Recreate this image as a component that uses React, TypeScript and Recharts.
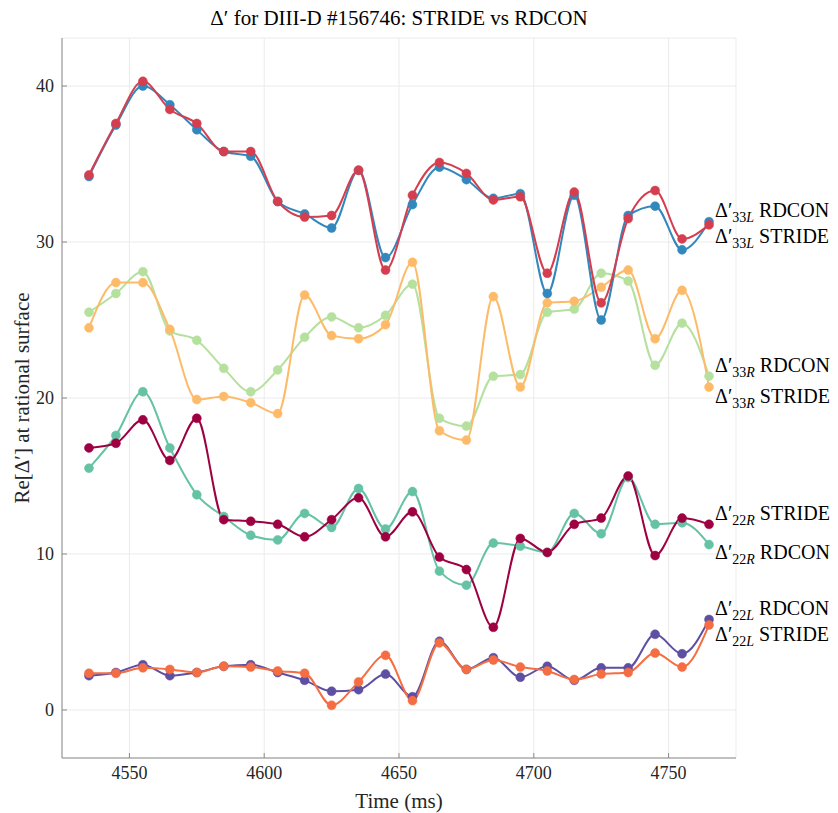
import { LineChart, Line, XAxis, YAxis, CartesianGrid, ReferenceDot } from 'recharts';

// time samples (ms)
const times = [4535, 4545, 4555, 4565, 4575, 4585, 4595, 4605, 4615, 4625, 4635, 4645, 4655, 4665, 4675, 4685, 4695, 4705, 4715, 4725, 4735, 4745, 4755, 4765];

// Re[Δ'] per rational surface
const d33L_RDCON = [34.2, 37.5, 40.0, 38.8, 37.2, 35.8, 35.5, 32.6, 31.8, 30.9, 34.6, 29.0, 32.4, 34.8, 34.0, 32.8, 33.1, 26.7, 33.0, 25.0, 31.7, 32.3, 29.5, 31.3];
const d33L_STRIDE = [34.3, 37.6, 40.3, 38.5, 37.6, 35.8, 35.8, 32.6, 31.6, 31.7, 34.6, 28.2, 33.0, 35.1, 34.4, 32.7, 32.9, 28.0, 33.2, 26.1, 31.5, 33.3, 30.2, 31.1];
const d33R_RDCON = [25.5, 26.7, 28.1, 24.3, 23.7, 21.9, 20.4, 21.8, 23.9, 25.2, 24.5, 25.3, 27.3, 18.7, 18.2, 21.4, 21.5, 25.5, 25.7, 28.0, 27.5, 22.1, 24.8, 21.4];
const d33R_STRIDE = [24.5, 27.4, 27.4, 24.4, 19.9, 20.1, 19.7, 19.0, 26.6, 24.0, 23.8, 24.7, 28.7, 17.9, 17.3, 26.5, 20.7, 26.1, 26.2, 27.1, 28.2, 23.8, 26.9, 20.7];
const d22R_RDCON = [15.5, 17.6, 20.4, 16.8, 13.8, 12.4, 11.2, 10.9, 12.6, 11.7, 14.2, 11.6, 14.0, 8.9, 8.0, 10.7, 10.5, 10.1, 12.6, 11.3, 14.9, 11.9, 12.0, 10.6];
const d22R_STRIDE = [16.8, 17.1, 18.6, 16.0, 18.7, 12.2, 12.1, 11.9, 11.1, 12.2, 13.6, 11.1, 12.7, 9.8, 9.0, 5.3, 11.0, 10.1, 11.9, 12.3, 15.0, 9.9, 12.3, 11.9];
const d22L_RDCON = [2.2, 2.4, 2.9, 2.2, 2.4, 2.8, 2.9, 2.4, 1.9, 1.2, 1.3, 2.3, 0.85, 4.4, 2.6, 3.35, 2.1, 2.8, 1.9, 2.7, 2.7, 4.85, 3.6, 5.8];
const d22L_STRIDE = [2.35, 2.35, 2.7, 2.6, 2.4, 2.8, 2.75, 2.5, 2.35, 0.3, 1.8, 3.5, 0.6, 4.3, 2.6, 3.2, 2.75, 2.5, 1.95, 2.3, 2.4, 3.65, 2.75, 5.45];

const xTicks = [4550, 4600, 4650, 4700, 4750];
const yTicks = [0, 10, 20, 30, 40];

// where the end labels sit (data units)
const labelPos = [32.05, 30.4, 22.1, 20.1, 12.6, 10.1, 6.55, 4.85];

const FONT = "'Times New Roman', 'Liberation Serif', Times, 'DejaVu Serif', serif";

const series = [
  { key: 'r22l', data: d22L_RDCON, color: '#5e4fa2', sub: '22', side: 'L', code: 'RDCON' },
  { key: 's22l', data: d22L_STRIDE, color: '#f46d43', sub: '22', side: 'L', code: 'STRIDE' },
  { key: 'r22r', data: d22R_RDCON, color: '#66c2a5', sub: '22', side: 'R', code: 'RDCON' },
  { key: 's22r', data: d22R_STRIDE, color: '#9e0142', sub: '22', side: 'R', code: 'STRIDE' },
  { key: 'r33r', data: d33R_RDCON, color: '#b5e09e', sub: '33', side: 'R', code: 'RDCON' },
  { key: 's33r', data: d33R_STRIDE, color: '#fdbb69', sub: '33', side: 'R', code: 'STRIDE' },
  { key: 'r33l', data: d33L_RDCON, color: '#3288bd', sub: '33', side: 'L', code: 'RDCON' },
  { key: 's33l', data: d33L_STRIDE, color: '#d53e4f', sub: '33', side: 'L', code: 'STRIDE' },
];

// label order top-to-bottom as in the figure
const labelOrder = ['r33l', 's33l', 'r33r', 's33r', 's22r', 'r22r', 'r22l', 's22l'];

const rows = times.map((t, i) => {
  const row: Record<string, number> = { t };
  series.forEach((s) => {
    row[s.key] = s.data[i];
  });
  return row;
});

function EndLabel(props: any) {
  const { viewBox, sub, side, code } = props;
  if (!viewBox) return null;
  const x = viewBox.x + 6;
  const y = viewBox.y;
  return (
    <text x={x} y={y} dy="0.35em" style={{ fontFamily: FONT }} fontSize={20} fill="#000">
      Δ′
      <tspan fontSize={14} dy={5}>{sub}</tspan>
      <tspan fontSize={14} fontStyle="italic">{side}</tspan>
      <tspan fontSize={20} dy={-5}>{' ' + code}</tspan>
    </text>
  );
}

export default function App() {
  return (
    <div style={{ position: 'absolute', left: 0, top: 0, width: 838, height: 813, background: '#fff', fontFamily: FONT }}>
      <div
        style={{
          position: 'absolute',
          left: 62,
          width: 674,
          top: 6,
          textAlign: 'center',
          fontFamily: FONT,
          fontSize: 21,
          lineHeight: '24px',
          color: '#000',
        }}
      >
        Δ′ for DIII-D #156746: STRIDE vs RDCON
      </div>
      <LineChart
        width={838}
        height={813}
        data={rows}
        margin={{ top: 38, right: 102, bottom: 0, left: 0 }}
        style={{ fontFamily: FONT }}
      >
        <CartesianGrid stroke="#ebebeb" strokeWidth={1} />
        <XAxis
          dataKey="t"
          type="number"
          domain={[4525, 4775]}
          ticks={xTicks}
          allowDataOverflow
          height={55}
          tickSize={-5}
          tickMargin={13}
          stroke="#8a8a8a"
          tick={{ fill: '#262626', fontFamily: FONT, fontSize: 18 }}
          label={(p: any) => {
            const vb = p.viewBox;
            return (
              <text x={vb.x + vb.width / 2} y={vb.y + 43} dy="0.35em" textAnchor="middle" style={{ fontFamily: FONT }} fontSize={21} fill="#262626">
                Time (ms)
              </text>
            );
          }}
        />
        <YAxis
          type="number"
          domain={[-3.08, 43.08]}
          ticks={yTicks}
          allowDataOverflow
          width={62}
          tickSize={-5}
          tickMargin={13}
          stroke="#8a8a8a"
          tick={{ fill: '#262626', fontFamily: FONT, fontSize: 18 }}
          label={(p: any) => {
            const vb = p.viewBox;
            const cx = vb.x + 22;
            const cy = vb.y + vb.height / 2;
            return (
              <text x={cx} y={cy} dy="0.35em" textAnchor="middle" transform={`rotate(-90 ${cx} ${cy})`} style={{ fontFamily: FONT }} fontSize={21} fill="#262626">
                Re[Δ′] at rational surface
              </text>
            );
          }}
        />
        {series.map((s) => (
          <Line
            key={s.key}
            dataKey={s.key}
            type="monotone"
            stroke={s.color}
            strokeWidth={2}
            dot={{ r: 4.5, fill: s.color, stroke: s.color, strokeWidth: 0.5 }}
            activeDot={false}
            isAnimationActive={false}
          />
        ))}
        {labelOrder.map((k, i) => {
          const s = series.find((q) => q.key === k)!;
          return (
            <ReferenceDot
              key={'lbl' + k}
              x={times[times.length - 1]}
              y={labelPos[i]}
              r={0}
              fill="none"
              stroke="none"
              ifOverflow="visible"
              label={(p: any) => <EndLabel {...p} sub={s.sub} side={s.side} code={s.code} />}
            />
          );
        })}
      </LineChart>
    </div>
  );
}
